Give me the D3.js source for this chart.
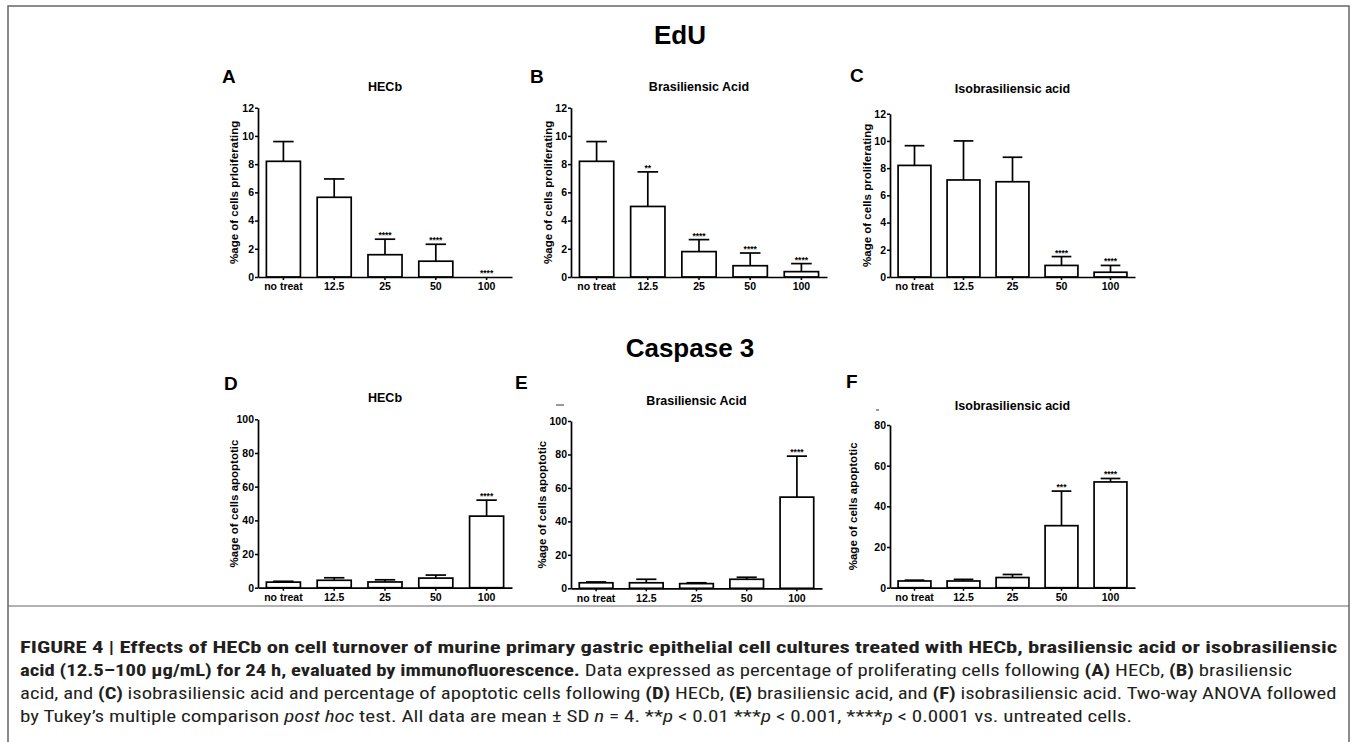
<!DOCTYPE html>
<html>
<head>
<meta charset="utf-8">
<script src="https://cdn.jsdelivr.net/npm/d3@7"></script>
<style>
body { margin: 0; background: #fff; }
svg text { font-family: "Liberation Sans", Arial, Helvetica, sans-serif; }
</style>
</head>
<body>
<svg id="fig" width="1357" height="742"></svg>
<script>
// Dose groups (µg/mL), shared by all six panels
const categories = ['no treat', '12.5', '25', '50', '100'];

// EdU: % of cells proliferating (mean, SD)
const eduHecb = [8.2, 5.65, 1.58, 1.12, 0];
const eduHecbSd = [1.4, 1.3, 1.1, 1.2, 0];
const eduHecbStars = ['', '', '****', '****', '****'];

const eduBras = [8.2, 5.0, 1.8, 0.8, 0.38];
const eduBrasSd = [1.4, 2.45, 0.85, 0.9, 0.57];
const eduBrasStars = ['', '**', '****', '****', '****'];

const eduIso = [8.2, 7.13, 7.0, 0.85, 0.35];
const eduIsoSd = [1.45, 2.87, 1.8, 0.65, 0.5];
const eduIsoStars = ['', '', '', '****', '****'];

// Caspase 3: % of cells apoptotic (mean, SD)
const casHecb = [3.3, 4.4, 3.4, 5.7, 42.5];
const casHecbSd = [0.5, 1.5, 1.3, 1.8, 9.5];
const casHecbStars = ['', '', '', '', '****'];

const casBras = [3.3, 3.3, 2.8, 5.4, 54.5];
const casBrasSd = [0.5, 2.1, 0.5, 1.2, 24.5];
const casBrasStars = ['', '', '', '', '****'];

const casIso = [3.3, 3.3, 5.0, 30.5, 52];
const casIsoSd = [0.4, 0.8, 1.5, 17, 1.7];
const casIsoStars = ['', '', '', '***', '****'];

// Axis ticks
const eduTicks = [0, 2, 4, 6, 8, 10, 12];
const cas100Ticks = [0, 20, 40, 60, 80, 100];
const cas80Ticks = [0, 20, 40, 60, 80];

// Caption lines: [text, style] runs
const captionLines = [
    [['FIGURE 4 | Effects of HECb on cell turnover of murine primary gastric epithelial cell cultures treated with HECb, brasiliensic acid or isobrasiliensic', 'b']],
    [['acid (12.5–100 \u03BCg/mL) for 24 h, evaluated by immunofluorescence.', 'b'], [' Data expressed as percentage of proliferating cells following ', 'n'],
        ['(A)', 'b'], [' HECb, ', 'n'], ['(B)', 'b'], [' brasiliensic', 'n']],
    [['acid, and ', 'n'], ['(C)', 'b'], [' isobrasiliensic acid and percentage of apoptotic cells following ', 'n'], ['(D)', 'b'],
        [' HECb, ', 'n'], ['(E)', 'b'], [' brasiliensic acid, and ', 'n'], ['(F)', 'b'], [' isobrasiliensic acid. Two-way ANOVA followed', 'n']],
    [['by Tukey\u2019s multiple comparison ', 'n'], ['post hoc', 'i'], [' test. All data are mean \u00B1 SD ', 'n'], ['n', 'i'], [' = 4. **', 'n'],
        ['p', 'i'], [' < 0.01 ***', 'n'], ['p', 'i'], [' < 0.001, ****', 'n'], ['p', 'i'], [' < 0.0001 vs. untreated cells.', 'n']],
];

const svg = d3.select('#fig');

// frame
svg.append('rect')
    .attr('x', 8).attr('y', 6)
    .attr('width', 1341).attr('height', 760)
    .attr('fill', 'none')
    .attr('stroke', '#666')
    .attr('stroke-width', 1.5);
svg.append('line')
    .attr('x1', 8).attr('x2', 1349)
    .attr('y1', 606).attr('y2', 606)
    .attr('stroke', '#666')
    .attr('stroke-width', 1.2);

svg.append('text')
    .attr('x', 680).attr('y', 44)
    .attr('text-anchor', 'middle')
    .style('font-size', '26px').style('font-weight', 'bold')
    .text('EdU');

svg.append('text')
    .attr('x', 690).attr('y', 357)
    .attr('text-anchor', 'middle')
    .style('font-size', '26px').style('font-weight', 'bold')
    .text('Caspase 3');

const panels = [
    { letter: 'A', title: 'HECb', ylab: '%age of cells prloiferating', values: eduHecb, sd: eduHecbSd, stars: eduHecbStars, ticks: eduTicks,
        ax: 258, ax1: 512, yTop: 107.7, y0: 277, lx: 222, ly: 83, ty: 91, yl: 20 },
    { letter: 'B', title: 'Brasiliensic Acid', ylab: '%age of cells proliferating', values: eduBras, sd: eduBrasSd, stars: eduBrasStars, ticks: eduTicks,
        ax: 571, ax1: 827, yTop: 107.7, y0: 277, lx: 530, ly: 83, ty: 91, yl: 19 },
    { letter: 'C', title: 'Isobrasiliensic acid', ylab: '%age of cells proliferating', values: eduIso, sd: eduIsoSd, stars: eduIsoStars, ticks: eduTicks,
        ax: 890, ax1: 1135, yTop: 113.7, y0: 277, lx: 850, ly: 82, ty: 93, yl: 19 },
    { letter: 'D', title: 'HECb', ylab: '%age of cells apoptotic', values: casHecb, sd: casHecbSd, stars: casHecbStars, ticks: cas100Ticks,
        ax: 258, ax1: 512, yTop: 419.3, y0: 587.7, lx: 224, ly: 390, ty: 402, yl: 20 },
    { letter: 'E', title: 'Brasiliensic Acid', ylab: '%age of cells apoptotic', values: casBras, sd: casBrasSd, stars: casBrasStars, ticks: cas100Ticks,
        ax: 571, ax1: 822, yTop: 421, y0: 588.3, lx: 515, ly: 389, ty: 405, yl: 25, dash: [556, 564] },
    { letter: 'F', title: 'Isobrasiliensic acid', ylab: '%age of cells apoptotic', values: casIso, sd: casIsoSd, stars: casIsoStars, ticks: cas80Ticks,
        ax: 890, ax1: 1135, yTop: 425, y0: 587.7, lx: 846, ly: 388, ty: 410, yl: 33, dash: [876, 879] },
];

function drawPanel(p) {
    const g = svg.append('g').attr('class', `panel-${p.letter}`);

    const x = d3.scaleBand()
        .domain(categories)
        .range([p.ax, p.ax1])
        .paddingInner(0.33)
        .paddingOuter(0.165);

    const y = d3.scaleLinear()
        .domain([0, d3.max(p.ticks)])
        .range([p.y0, p.yTop]);

    g.append('text')
        .attr('x', p.lx).attr('y', p.ly)
        .style('font-size', '19px').style('font-weight', 'bold')
        .text(p.letter);

    g.append('text')
        .attr('x', (p.ax + p.ax1) / 2).attr('y', p.ty)
        .attr('text-anchor', 'middle')
        .style('font-size', '12.5px').style('font-weight', 'bold')
        .text(p.title);

    if (p.dash) {
        g.append('line')
            .attr('x1', p.dash[0]).attr('x2', p.dash[1])
            .attr('y1', p.ty).attr('y2', p.ty)
            .attr('stroke', '#555').attr('stroke-width', 1.2);
    }

    const bars = g.selectAll('.bar')
        .data(categories.map((c, i) => ({ c, v: p.values[i], sd: p.sd[i], star: p.stars[i] })))
        .enter().append('g')
        .attr('class', 'bar');

    bars.filter(d => d.sd > 0).append('line')
        .attr('x1', d => x(d.c) + x.bandwidth() / 2)
        .attr('x2', d => x(d.c) + x.bandwidth() / 2)
        .attr('y1', d => y(d.v))
        .attr('y2', d => y(d.v + d.sd))
        .attr('stroke', '#000').attr('stroke-width', 1.7);

    bars.filter(d => d.sd > 0).append('line')
        .attr('x1', d => x(d.c) + x.bandwidth() * 0.2)
        .attr('x2', d => x(d.c) + x.bandwidth() * 0.8)
        .attr('y1', d => y(d.v + d.sd))
        .attr('y2', d => y(d.v + d.sd))
        .attr('stroke', '#000').attr('stroke-width', 1.7);

    bars.filter(d => d.v > 0).append('rect')
        .attr('x', d => x(d.c))
        .attr('width', x.bandwidth())
        .attr('y', d => y(d.v))
        .attr('height', d => y(0) - y(d.v))
        .attr('fill', '#fff')
        .attr('stroke', '#000')
        .attr('stroke-width', 1.7);

    bars.append('text')
        .attr('x', d => x(d.c) + x.bandwidth() / 2)
        .attr('y', d => y(d.v + d.sd) - 1)
        .attr('text-anchor', 'middle')
        .style('font-size', '8.5px').style('font-weight', 'bold')
        .text(d => d.star);

    const yAxis = g.append('g')
        .attr('transform', `translate(${p.ax},0)`)
        .call(d3.axisLeft(y).tickValues(p.ticks).tickSize(3).tickSizeOuter(0).tickPadding(1).tickFormat(d3.format('d')));

    const xAxis = g.append('g')
        .attr('transform', `translate(0,${p.y0})`)
        .call(d3.axisBottom(x).tickSize(3).tickSizeOuter(0).tickPadding(3));

    [xAxis, yAxis].forEach(a => {
        a.select('.domain').attr('stroke', '#000').attr('stroke-width', 1.7);
        a.selectAll('.tick line').attr('stroke', '#000').attr('stroke-width', 1.5);
        a.selectAll('.tick text')
            .attr('fill', '#000')
            .style('font-family', '"Liberation Sans", Arial, sans-serif')
            .style('font-size', '10.5px').style('font-weight', 'bold');
    });

    g.append('text')
        .attr('transform', `translate(${p.ax - p.yl},${(p.yTop + p.y0) / 2}) rotate(-90)`)
        .attr('text-anchor', 'middle')
        .style('font-size', '11.5px').style('font-weight', 'bold')
        .text(p.ylab);
}

panels.forEach(drawPanel);

// caption, each line squeezed to the width it has in the figure
const captionBase = [653, 676, 699, 722];
const captionWidth = [1318, 1273, 1317, 1113];

captionLines.forEach((runs, i) => {
    const t = svg.append('text')
        .attr('x', 0).attr('y', 0)
        .style('font-family', '"Liberation Sans Narrow", "Roboto Condensed", "Liberation Sans", sans-serif')
        .style('font-size', '16.5px')
        .attr('fill', '#231f20');
    runs.forEach(([s, st]) => {
        t.append('tspan')
            .style('font-weight', st === 'b' ? 'bold' : 'normal')
            .style('font-style', st === 'i' ? 'italic' : 'normal')
            .text(s);
    });
    const w = t.node().getComputedTextLength();
    t.attr('transform', `translate(20,${captionBase[i]}) scale(${captionWidth[i] / w},1)`);
});
</script>
</body>
</html>
